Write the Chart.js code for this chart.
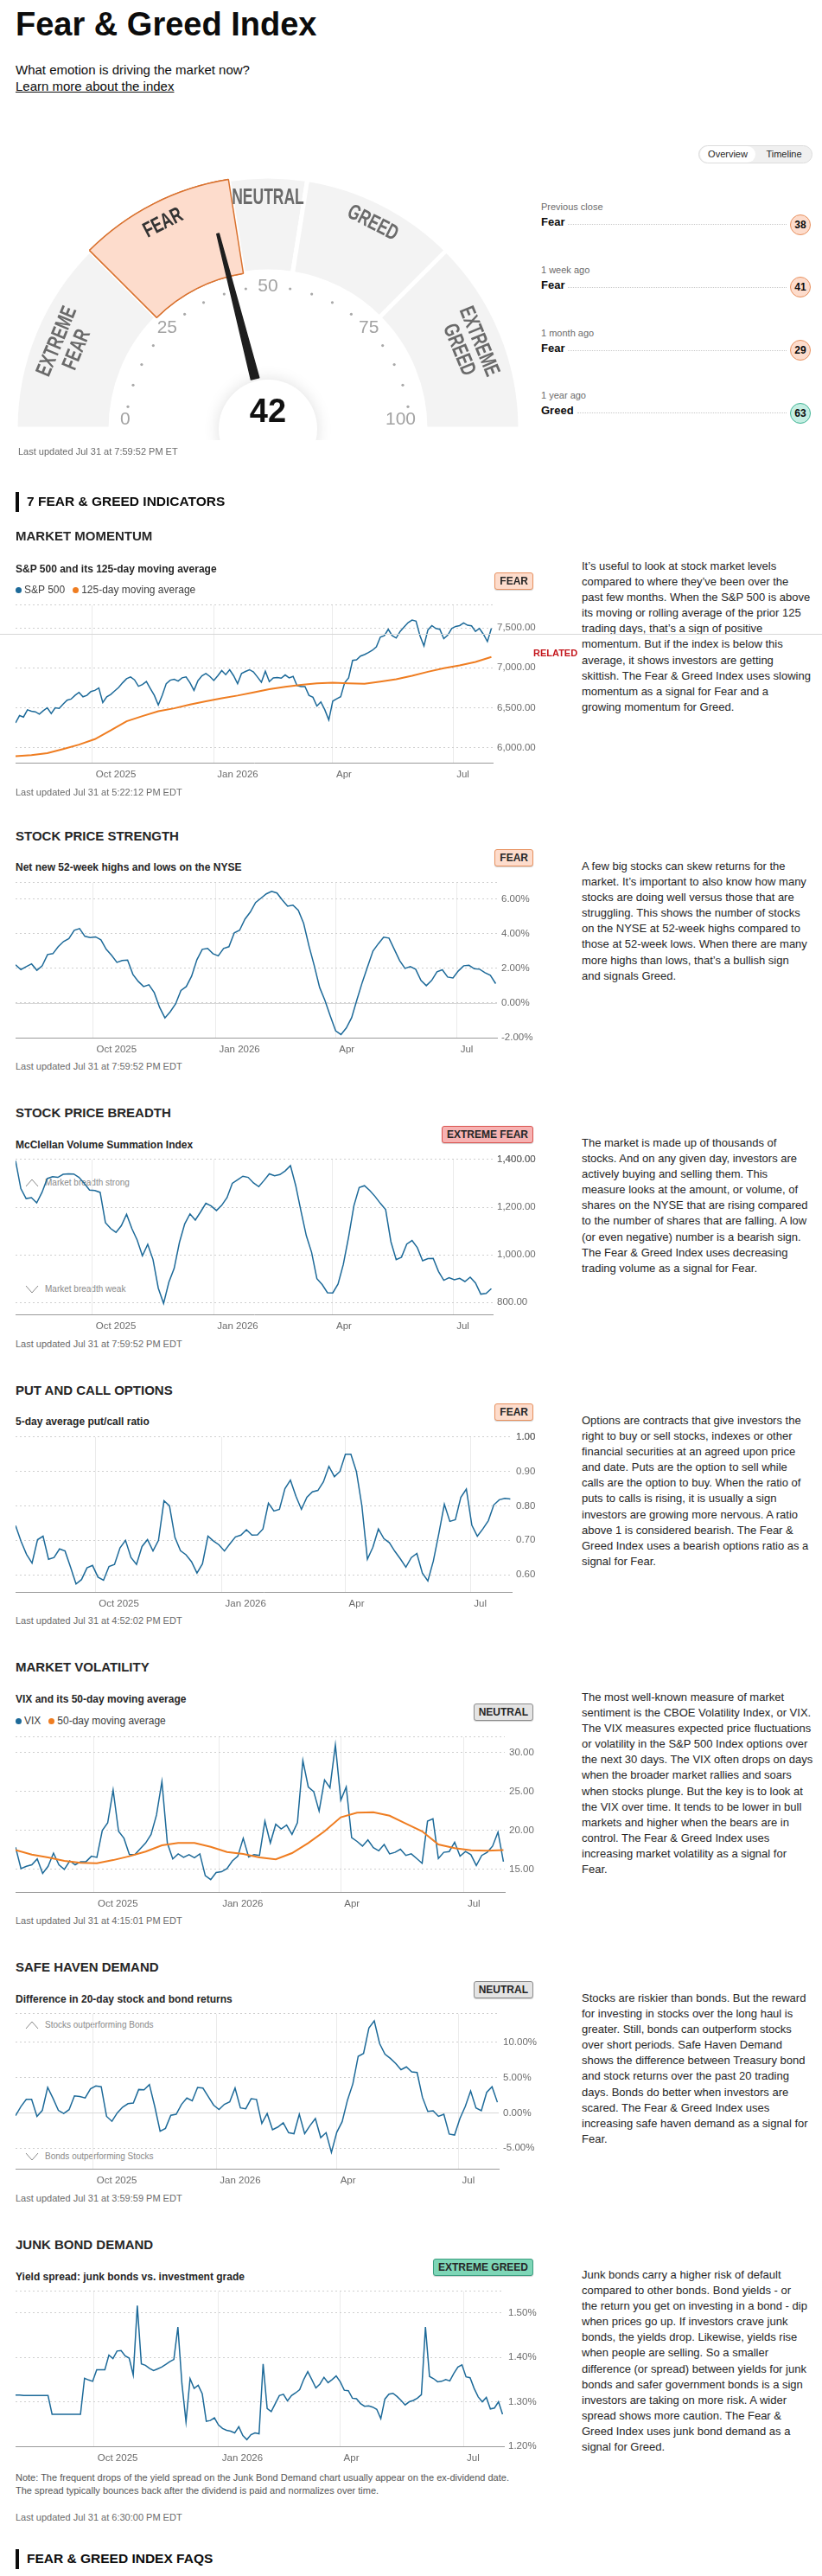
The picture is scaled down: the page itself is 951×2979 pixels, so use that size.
<!DOCTYPE html>
<html lang="en">
<head>
<meta charset="utf-8">
<title>Fear &amp; Greed Index</title>
<script src="https://cdn.jsdelivr.net/npm/chart.js@4.4.1/dist/chart.umd.min.js"></script>
<style>
  html, body { margin: 0; padding: 0; background: #fff; }
  body { position: relative; width: 951px; height: 2979px; overflow: hidden;
         font-family: "Liberation Sans", Arial, Helvetica, sans-serif; color: #0c0c0c; }
  .abs { position: absolute; white-space: nowrap; }
  .title { font-size: 38px; font-weight: bold; line-height: 44px; }
  .intro { font-size: 15px; line-height: 20px; }
  .intro a { color: #0c0c0c; text-decoration: underline; }
  .updated { font-size: 11px; line-height: 14px; color: #6b6b6b; }
  .kicker { font-size: 15.5px; font-weight: bold; line-height: 20px; }
  .kicker-bar { position: absolute; left: 18px; width: 4px; height: 23px; background: #0c0c0c; }
  .section-title { font-size: 15px; font-weight: bold; line-height: 20px; color: #262626; }
  .subtitle { font-size: 12px; font-weight: bold; line-height: 16px; color: #262626; }
  .legend { font-size: 12px; line-height: 16px; color: #404040; }
  .legend i { display: inline-block; width: 7px; height: 7px; border-radius: 50%; margin-right: 3px; }
  .legend span { margin-right: 9px; }
  .desc { font-size: 13px; line-height: 18.1px; color: #262626; }
  .note { font-size: 11px; line-height: 15px; color: #555; }
  .hint { font-size: 10px; line-height: 12px; color: #8a8a8a; }
  .badge { position: absolute; right: 334px; height: 18px; line-height: 18px; padding: 0 5px;
           font-size: 12px; font-weight: bold; border: 1px solid; border-radius: 3px; color: #262626;
           box-shadow: 0 1px 1px rgba(0,0,0,.18); white-space: nowrap; }
  .b-fear { background: #fddccc; border-color: #e8915f; }
  .b-neutral { background: #e4e4e4; border-color: #8c8c8c; }
  .b-xfear { background: #f7b2b2; border-color: #d9534f; }
  .b-xgreed { background: #7ed6b7; border-color: #3a9d7f; }
  .toggle { position: absolute; left: 808px; top: 168px; width: 130px; height: 19px; border: 1px solid #dcdcdc;
            border-radius: 11px; background: #f0f0f0; font-size: 11px; line-height: 19px; color: #262626; }
  .toggle span { position: absolute; top: 0; height: 19px; text-align: center; }
  .toggle .on { left: 1px; width: 64px; background: #fff; border-radius: 10px; }
  .hist-label { font-size: 11px; line-height: 14px; color: #6b6b6b; }
  .hist-row { position: absolute; left: 626px; width: 312px; height: 26px; display: flex; align-items: center; }
  .hist-row b { font-size: 13px; position: relative; top: -3px; }
  .hist-row .dots { flex: 1; border-top: 1px dotted #c9c9c9; margin: 0 4px 0 4px; }
  .hist-row .num { width: 22px; height: 22px; border-radius: 50%; border: 1px solid; font-size: 12px;
                   font-weight: bold; text-align: center; line-height: 22px; }
  .num.fear { background: #fddccc; border-color: #e8915f; }
  .num.greed { background: #c4eee2; border-color: #43b596; }
  canvas { position: absolute; left: 0; }
</style>
</head>
<body>

<div class="abs title" style="left:18px;top:6px">Fear &amp; Greed Index</div>
<div class="abs intro" style="left:18px;top:71px">What emotion is driving the market now?</div>
<div class="abs intro" style="left:18px;top:90px"><a>Learn more about the index</a></div>
<div class="toggle"><span class="on">Overview</span><span style="left:66px;width:64px">Timeline</span></div>

<canvas id="gauge" width="620" height="620" style="top:186px"></canvas>
<div class="abs updated" style="left:21px;top:515px">Last updated Jul 31 at 7:59:52 PM ET</div>

<div class="kicker-bar" style="top:569px"></div>
<div class="abs kicker" style="left:31px;top:570px">7 FEAR &amp; GREED INDICATORS</div>

<div class="kicker-bar" style="top:2948px"></div>
<div class="abs kicker" style="left:31px;top:2949px">FEAR &amp; GREED INDEX FAQS</div>

<script>
const FONT = '"Liberation Sans", Arial, Helvetica, sans-serif';
const BLUE = "#1d6a99";
const ORANGE = "#ef7d21";

// x axis is counted in days from Aug 4, 2025
const X_MAX_DAY = 361;
const monthTickDays = [58, 150, 240, 331];
const monthTickLabels = ["Oct 2025", "Jan 2026", "Apr", "Jul"];

// gauge
const gaugeValue = 42;
const gaugeBands = [25, 20, 10, 20, 25];
const gaugeBandNames = [["EXTREME", "FEAR"], ["FEAR"], ["NEUTRAL"], ["GREED"], ["EXTREME", "GREED"]];
const gaugeScaleLabels = [0, 25, 50, 75, 100];

const historyLabels = ["Previous close", "1 week ago", "1 month ago", "1 year ago"];
const historyRatings = ["Fear", "Fear", "Fear", "Greed"];
const historyValues = [38, 41, 29, 63];

// S&P 500, every 3 days
const sp500Values = [
  6310, 6401, 6383, 6473, 6455, 6448, 6419, 6462, 6499, 6426,
  6499, 6492, 6546, 6594, 6608, 6655, 6692, 6637, 6655, 6703,
  6717, 6747, 6565, 6637, 6666, 6710, 6754, 6812, 6863, 6885,
  6849, 6769, 6790, 6827, 6740, 6655, 6535, 6655, 6801, 6845,
  6856, 6834, 6874, 6885, 6812, 6717, 6838, 6900, 6929, 6892,
  6841, 6900, 6965, 6914, 6976, 6900, 6801, 6929, 6954, 6976,
  6947, 6885, 6819, 6958, 6827, 6874, 6878, 6870, 6910, 6874,
  6892, 6776, 6765, 6765, 6655, 6630, 6521, 6572, 6473, 6346,
  6583, 6612, 6637, 6812, 6874, 7092, 7100, 7147, 7165, 7191,
  7220, 7263, 7384, 7402, 7482, 7402, 7373, 7456, 7511, 7566,
  7598, 7584, 7402, 7274, 7475, 7529, 7493, 7482, 7365, 7409,
  7493, 7518, 7529, 7562, 7533, 7525, 7456, 7493, 7420, 7329,
  7493
];
// 125-day moving average, every 12 days
const sp500MaValues = [
  5891, 5906, 5931, 5982, 6037, 6106, 6215, 6330, 6395, 6455,
  6492, 6540, 6580, 6619, 6652, 6692, 6732, 6761, 6787, 6805,
  6812, 6805, 6801, 6827, 6856, 6900, 6950, 6994, 7030, 7074,
  7136
];
// net new 52-week highs and lows, every 4 days
const strengthValues = [
  2.20, 1.93, 2.10, 2.26, 1.89, 2.15, 2.80, 2.85, 3.25, 3.55,
  3.72, 4.20, 4.30, 3.85, 3.78, 3.82, 3.65, 3.10, 2.75, 2.35,
  2.45, 2.48, 1.65, 1.25, 0.95, 1.05, 0.60, -0.25, -0.86, -0.50,
  -0.05, 0.72, 0.95, 1.55, 2.50, 3.10, 3.15, 2.85, 2.72, 3.15,
  3.25, 4.05, 4.20, 4.84, 5.25, 5.80, 6.05, 6.30, 6.45, 6.35,
  5.95, 5.59, 5.65, 5.35, 4.60, 3.30, 2.15, 0.90, 0.15, -0.75,
  -1.60, -1.82, -1.44, -0.85, 0.20, 1.20, 2.10, 3.00, 3.42, 3.80,
  3.75, 3.10, 2.45, 2.00, 2.10, 1.95, 1.30, 1.00, 1.30, 1.80,
  1.92, 1.50, 1.45, 1.85, 2.15, 2.18, 1.98, 1.95, 1.75, 1.60,
  1.12
];
// McClellan volume summation index, every 4 days
const breadthValues = [
  1395, 1278, 1236, 1240, 1218, 1262, 1320, 1328, 1325, 1338,
  1340, 1339, 1325, 1300, 1272, 1270, 1262, 1135, 1110, 1094,
  1122, 1170, 1110, 1062, 996, 1044, 980, 860, 796, 885,
  943, 1052, 1130, 1172, 1146, 1180, 1216, 1205, 1186, 1208,
  1240, 1300, 1315, 1330, 1325, 1302, 1286, 1312, 1340, 1332,
  1337, 1352, 1374, 1290, 1182, 1080, 1010, 900, 875, 841,
  840, 877, 960, 1075, 1206, 1282, 1290, 1270, 1245, 1216,
  1190, 1055, 980, 990, 1045, 1060, 1030, 975, 984, 985,
  930, 893, 904, 895, 901, 888, 906, 882, 835, 838,
  858
];
// 5-day average put/call ratio, every 4 days
const putCallValues = [
  0.743, 0.697, 0.659, 0.634, 0.702, 0.712, 0.645, 0.650, 0.675, 0.669,
  0.622, 0.573, 0.586, 0.620, 0.627, 0.593, 0.584, 0.624, 0.630, 0.678,
  0.700, 0.650, 0.630, 0.682, 0.702, 0.669, 0.700, 0.815, 0.800, 0.708,
  0.670, 0.658, 0.638, 0.605, 0.632, 0.712, 0.698, 0.687, 0.669, 0.690,
  0.710, 0.715, 0.731, 0.715, 0.716, 0.733, 0.808, 0.785, 0.790, 0.850,
  0.875, 0.828, 0.790, 0.825, 0.841, 0.845, 0.870, 0.915, 0.885, 0.900,
  0.950, 0.950, 0.900, 0.800, 0.645, 0.680, 0.733, 0.705, 0.693, 0.668,
  0.646, 0.622, 0.650, 0.662, 0.605, 0.582, 0.640, 0.720, 0.805, 0.755,
  0.760, 0.825, 0.849, 0.744, 0.712, 0.733, 0.757, 0.803, 0.818, 0.822,
  0.820
];
// VIX, every 4 days
const vixValues = [
  17.85, 15.1, 15.4, 15.6, 16.35, 14.5, 15.4, 17.1, 15.6, 15.0,
  16.1, 15.6, 16.0, 16.0, 16.7, 16.55, 20.0, 21.0, 25.2, 19.9,
  19.0, 16.9, 16.9, 17.65, 18.4, 19.5, 22.0, 26.3, 18.4, 16.35,
  17.0, 16.55, 16.9, 16.5, 17.0, 14.2, 13.7, 14.6, 14.7, 15.1,
  16.1, 16.7, 19.0, 16.6, 16.9, 16.8, 21.2, 18.4, 20.8, 20.2,
  20.7, 19.5, 21.0, 29.0, 25.6, 25.0, 22.5, 26.5, 25.5, 31.0,
  23.9, 25.6, 19.1, 18.6, 18.0, 18.8, 17.8, 17.4, 18.2, 17.0,
  17.2, 17.6, 16.8, 17.0, 16.4, 15.8, 21.2, 21.5, 16.4, 17.2,
  17.3, 18.5, 16.7, 17.3, 16.9, 15.5, 16.8, 17.2, 18.0, 19.8,
  16.0
];
// VIX 50-day moving average, every 12 days
const vixMaValues = [
  17.5, 16.9, 16.55, 16.1, 15.85, 15.8, 16.2, 16.7, 17.3, 18.1,
  18.4, 18.4, 17.9, 17.25, 17.0, 16.55, 16.3, 17.1, 18.4, 19.9,
  21.7, 22.3, 22.35, 21.9, 20.9, 19.9, 18.2, 17.75, 17.45, 17.4,
  17.5
];
// 20-day stock minus bond returns, every 4 days
const safeHavenValues = [
  -0.40, 0.89, 1.90, 1.90, -0.50, 0.35, 3.60, 2.05, 0.35, -0.10,
  0.45, 2.40, 2.30, 2.10, 3.40, 3.80, 3.70, -0.50, -1.20, 0.00,
  0.80, 1.30, 1.40, 3.30, 3.25, 4.00, 0.90, -2.60, -2.20, -0.35,
  -0.20, 1.20, 2.10, 1.70, 3.60, 3.50, 2.30, 1.09, 0.48, 1.20,
  1.55, 3.50, 0.70, 0.58, 2.00, 1.90, -1.50, -0.10, -2.40, -2.00,
  -1.40, -2.80, -2.95, -0.20, -2.94, -1.80, -0.80, -3.50, -2.80, -5.60,
  -2.74, -1.25, 1.80, 4.10, 8.00, 8.40, 12.00, 13.00, 9.80, 8.30,
  7.70, 7.00, 6.10, 6.50, 5.80, 5.70, 2.20, 0.20, 0.30, -0.50,
  -0.20, -3.00, -3.14, -0.80, 0.90, 3.10, 0.70, 0.30, 2.90, 3.70,
  1.50
];
// junk bond yield spread, every 3 days
const junkSpreadValues = [
  1.315, 1.315, 1.314, 1.314, 1.314, 1.314, 1.314, 1.314, 1.314, 1.272,
  1.272, 1.272, 1.272, 1.272, 1.272, 1.272, 1.272, 1.353, 1.349, 1.346,
  1.372, 1.372, 1.372, 1.405, 1.397, 1.414, 1.415, 1.403, 1.398, 1.360,
  1.516, 1.385, 1.382, 1.375, 1.370, 1.374, 1.378, 1.384, 1.390, 1.395,
  1.468, 1.340, 1.255, 1.352, 1.330, 1.337, 1.318, 1.256, 1.258, 1.264,
  1.248, 1.240, 1.236, 1.234, 1.230, 1.244, 1.224, 1.215, 1.226, 1.230,
  1.228, 1.385, 1.285, 1.278, 1.296, 1.314, 1.317, 1.302, 1.314, 1.320,
  1.327, 1.350, 1.368, 1.350, 1.331, 1.340, 1.355, 1.343, 1.350, 1.358,
  1.345, 1.326, 1.325, 1.308, 1.307, 1.296, 1.290, 1.291, 1.288, 1.283,
  1.262, 1.306, 1.317, 1.319, 1.312, 1.303, 1.293, 1.300, 1.303, 1.308,
  1.316, 1.468, 1.357, 1.352, 1.345, 1.346, 1.350, 1.347, 1.364, 1.378,
  1.383, 1.356, 1.354, 1.330, 1.311, 1.300, 1.310, 1.284, 1.286, 1.300,
  1.272
];

const money = (v) => v.toLocaleString("en-US", { minimumFractionDigits: 2, maximumFractionDigits: 2 });
const pct = (v) => v.toFixed(2) + "%";
const plain = (v) => v.toFixed(2);

const sections = [
  {
    title: "MARKET MOMENTUM", titleY: 620,
    subtitle: "S&P 500 and its 125-day moving average", subtitleY: 658,
    legend: [["S&P 500", BLUE], ["125-day moving average", ORANGE]], legendY: 682,
    badge: "FEAR", badgeClass: "b-fear", badgeTop: 662,
    plotTop: 698, plotBottom: 882, plotRight: 570,
    yMin: 5811, yMax: 7784, yTicks: [6000, 6500, 7000, 7500], format: money,
    series: [
      { values: sp500MaValues, step: 12, color: ORANGE, width: 2 },
      { values: sp500Values, step: 3, color: BLUE, width: 1.5 },
    ],
    updated: "Last updated Jul 31 at 5:22:12 PM EDT", updatedY: 916,
    descY: 655,
    desc: [
      "It’s useful to look at stock market levels",
      "compared to where they’ve been over the",
      "past few months. When the S&P 500 is above",
      "its moving or rolling average of the prior 125",
      "trading days, that’s a sign of positive",
      "momentum. But if the index is below this",
      "average, it shows investors are getting",
      "skittish. The Fear & Greed Index uses slowing",
      "momentum as a signal for Fear and a",
      "growing momentum for Greed.",
    ],
  },
  {
    title: "STOCK PRICE STRENGTH", titleY: 967,
    subtitle: "Net new 52-week highs and lows on the NYSE", subtitleY: 1003,
    badge: "FEAR", badgeClass: "b-fear", badgeTop: 982,
    plotTop: 1019, plotBottom: 1200, plotRight: 575,
    yMin: -2, yMax: 6.94, yTicks: [-2, 0, 2, 4, 6], format: pct, zeroLine: true,
    series: [{ values: strengthValues, step: 4, color: BLUE, width: 1.5 }],
    updated: "Last updated Jul 31 at 7:59:52 PM EDT", updatedY: 1233,
    descY: 1002,
    desc: [
      "A few big stocks can skew returns for the",
      "market. It’s important to also know how many",
      "stocks are doing well versus those that are",
      "struggling. This shows the number of stocks",
      "on the NYSE at 52-week highs compared to",
      "those at 52-week lows. When there are many",
      "more highs than lows, that’s a bullish sign",
      "and signals Greed.",
    ],
  },
  {
    title: "STOCK PRICE BREADTH", titleY: 1287,
    subtitle: "McClellan Volume Summation Index", subtitleY: 1324,
    badge: "EXTREME FEAR", badgeClass: "b-xfear", badgeTop: 1302,
    plotTop: 1339, plotBottom: 1520, plotRight: 570,
    yMin: 750, yMax: 1400, yTicks: [800, 1000, 1200, 1400], format: money,
    hints: [["up", "Market breadth strong", 1368], ["down", "Market breadth weak", 1491]],
    series: [{ values: breadthValues, step: 4, color: BLUE, width: 1.5 }],
    updated: "Last updated Jul 31 at 7:59:52 PM EDT", updatedY: 1554,
    descY: 1322,
    desc: [
      "The market is made up of thousands of",
      "stocks. And on any given day, investors are",
      "actively buying and selling them. This",
      "measure looks at the amount, or volume, of",
      "shares on the NYSE that are rising compared",
      "to the number of shares that are falling. A low",
      "(or even negative) number is a bearish sign.",
      "The Fear & Greed Index uses decreasing",
      "trading volume as a signal for Fear.",
    ],
  },
  {
    title: "PUT AND CALL OPTIONS", titleY: 1608,
    subtitle: "5-day average put/call ratio", subtitleY: 1644,
    badge: "FEAR", badgeClass: "b-fear", badgeTop: 1623,
    plotTop: 1660, plotBottom: 1841, plotRight: 592,
    yMin: 0.55, yMax: 1.0, yTicks: [0.6, 0.7, 0.8, 0.9, 1.0], format: plain,
    series: [{ values: putCallValues, step: 4, color: BLUE, width: 1.5 }],
    updated: "Last updated Jul 31 at 4:52:02 PM EDT", updatedY: 1874,
    descY: 1643,
    desc: [
      "Options are contracts that give investors the",
      "right to buy or sell stocks, indexes or other",
      "financial securities at an agreed upon price",
      "and date. Puts are the option to sell while",
      "calls are the option to buy. When the ratio of",
      "puts to calls is rising, it is usually a sign",
      "investors are growing more nervous. A ratio",
      "above 1 is considered bearish. The Fear &",
      "Greed Index uses a bearish options ratio as a",
      "signal for Fear.",
    ],
  },
  {
    title: "MARKET VOLATILITY", titleY: 1928,
    subtitle: "VIX and its 50-day moving average", subtitleY: 1965,
    legend: [["VIX", BLUE], ["50-day moving average", ORANGE]], legendY: 1990,
    badge: "NEUTRAL", badgeClass: "b-neutral", badgeTop: 1970,
    plotTop: 2007, plotBottom: 2188, plotRight: 584,
    yMin: 12.1, yMax: 32, yTicks: [15, 20, 25, 30], format: plain,
    series: [
      { values: vixMaValues, step: 12, color: ORANGE, width: 2 },
      { values: vixValues, step: 4, color: BLUE, width: 1.5 },
    ],
    updated: "Last updated Jul 31 at 4:15:01 PM EDT", updatedY: 2221,
    descY: 1963,
    desc: [
      "The most well-known measure of market",
      "sentiment is the CBOE Volatility Index, or VIX.",
      "The VIX measures expected price fluctuations",
      "or volatility in the S&P 500 Index options over",
      "the next 30 days. The VIX often drops on days",
      "when the broader market rallies and soars",
      "when stocks plunge. But the key is to look at",
      "the VIX over time. It tends to be lower in bull",
      "markets and higher when the bears are in",
      "control. The Fear & Greed Index uses",
      "increasing market volatility as a signal for",
      "Fear.",
    ],
  },
  {
    title: "SAFE HAVEN DEMAND", titleY: 2275,
    subtitle: "Difference in 20-day stock and bond returns", subtitleY: 2312,
    badge: "NEUTRAL", badgeClass: "b-neutral", badgeTop: 2291,
    plotTop: 2327, plotBottom: 2508, plotRight: 577,
    yMin: -7.9, yMax: 14, yTicks: [-5, 0, 5, 10], format: pct, zeroLine: true,
    hints: [["up", "Stocks outperforming Bonds", 2342], ["down", "Bonds outperforming Stocks", 2494]],
    series: [{ values: safeHavenValues, step: 4, color: BLUE, width: 1.5 }],
    updated: "Last updated Jul 31 at 3:59:59 PM EDT", updatedY: 2542,
    descY: 2311,
    desc: [
      "Stocks are riskier than bonds. But the reward",
      "for investing in stocks over the long haul is",
      "greater. Still, bonds can outperform stocks",
      "over short periods. Safe Haven Demand",
      "shows the difference between Treasury bond",
      "and stock returns over the past 20 trading",
      "days. Bonds do better when investors are",
      "scared. The Fear & Greed Index uses",
      "increasing safe haven demand as a signal for",
      "Fear.",
    ],
  },
  {
    title: "JUNK BOND DEMAND", titleY: 2596,
    subtitle: "Yield spread: junk bonds vs. investment grade", subtitleY: 2633,
    badge: "EXTREME GREED", badgeClass: "b-xgreed", badgeTop: 2612,
    plotTop: 2648, plotBottom: 2829, plotRight: 583,
    yMin: 1.2, yMax: 1.548, yTicks: [1.2, 1.3, 1.4, 1.5], format: pct,
    series: [{ values: junkSpreadValues, step: 3, color: BLUE, width: 1.5 }],
    note: [
      "Note: The frequent drops of the yield spread on the Junk Bond Demand chart usually appear on the ex-dividend date.",
      "The spread typically bounces back after the dividend is paid and normalizes over time.",
    ], noteY: 2865,
    updated: "Last updated Jul 31 at 6:30:00 PM EDT", updatedY: 2911,
    descY: 2631,
    desc: [
      "Junk bonds carry a higher risk of default",
      "compared to other bonds. Bond yields - or",
      "the return you get on investing in a bond - dip",
      "when prices go up. If investors crave junk",
      "bonds, the yields drop. Likewise, yields rise",
      "when people are selling. So a smaller",
      "difference (or spread) between yields for junk",
      "bonds and safer government bonds is a sign",
      "investors are taking on more risk. A wider",
      "spread shows more caution. The Fear &",
      "Greed Index uses junk bond demand as a",
      "signal for Greed.",
    ],
  },
];

function addText(text, x, centerY, cls, lineHeight) {
  const el = document.createElement("div");
  el.className = "abs " + cls;
  el.textContent = text;
  el.style.left = x + "px";
  el.style.top = centerY - lineHeight / 2 + "px";
  document.body.appendChild(el);
  return el;
}

function addHistory() {
  historyLabels.forEach((label, i) => {
    const y = 239 + i * 72.8;
    addText(label, 626, y, "hist-label", 14);
    const row = document.createElement("div");
    row.className = "hist-row";
    row.style.top = y + 20.5 - 13 + "px";
    const kind = historyRatings[i].toLowerCase();
    row.innerHTML = `<b>${historyRatings[i]}</b><span class="dots"></span><span class="num ${kind}">${historyValues[i]}</span>`;
    document.body.appendChild(row);
  });
}

function activeBandIndex() {
  let start = 0;
  for (let i = 0; i < gaugeBands.length; i++) {
    if (gaugeValue < start + gaugeBands[i]) return i;
    start += gaugeBands[i];
  }
  return gaugeBands.length - 1;
}

const gaugeDecor = {
  id: "gaugeDecor",
  afterDatasetsDraw(chart) {
    const ctx = chart.ctx;
    const meta = chart.getDatasetMeta(0);
    const cx = meta.data[0].x;
    const cy = meta.data[0].y;
    const active = activeBandIndex();
    meta.data[active].draw(ctx);

    // band names along the arc
    let start = 0;
    gaugeBands.forEach((band, i) => {
      const theta = Math.PI * (1 - (start + band / 2) / 100);
      start += band;
      const lines = gaugeBandNames[i];
      const radii = lines.length === 2 ? [264, 239] : [267];
      lines.forEach((txt, j) => {
        ctx.save();
        ctx.translate(cx + radii[j] * Math.cos(theta), cy - radii[j] * Math.sin(theta));
        ctx.rotate(Math.PI / 2 - theta);
        ctx.scale(0.7, 1);
        ctx.font = "bold 25px " + FONT;
        ctx.fillStyle = i === active ? "#333" : "#6a6a6a";
        ctx.textAlign = "center";
        ctx.textBaseline = "middle";
        ctx.fillText(txt, 0, 0);
        ctx.restore();
      });
    });

    // scale dots and numbers
    for (let v = 0; v <= 100; v += 5) {
      const theta = Math.PI * (1 - v / 100);
      if (gaugeScaleLabels.includes(v)) {
        const r = v === 0 || v === 100 ? 171 : 165;
        let x = cx + r * Math.cos(theta);
        let y = Math.min(cy - r * Math.sin(theta), cy - 11);
        ctx.save();
        ctx.font = "21px " + FONT;
        ctx.fillStyle = "#a3a3a3";
        ctx.textAlign = v === 0 ? "left" : v === 100 ? "right" : "center";
        ctx.textBaseline = "middle";
        ctx.fillText(String(v), x, y);
        ctx.restore();
      } else {
        ctx.beginPath();
        ctx.fillStyle = "#a9a9a9";
        ctx.arc(cx + 164 * Math.cos(theta), cy - 164 * Math.sin(theta), 1.6, 0, Math.PI * 2);
        ctx.fill();
      }
    }

    // center disc
    ctx.save();
    ctx.beginPath();
    ctx.rect(cx - 120, cy - 120, 240, 133);
    ctx.clip();
    ctx.shadowColor = "rgba(0,0,0,0.13)";
    ctx.shadowBlur = 18;
    ctx.fillStyle = "#fff";
    ctx.beginPath();
    ctx.arc(cx, cy, 57, 0, Math.PI * 2);
    ctx.fill();
    ctx.restore();

    // needle
    const theta = Math.PI * (1 - gaugeValue / 100);
    const ux = Math.cos(theta);
    const uy = -Math.sin(theta);
    const px = -uy;
    const py = ux;
    const r0 = 60;
    const r1 = 233;
    ctx.save();
    ctx.fillStyle = "#1e1e1e";
    ctx.strokeStyle = "#1e1e1e";
    ctx.lineJoin = "round";
    ctx.lineWidth = 1.5;
    ctx.beginPath();
    ctx.moveTo(cx + ux * r0 + px * 4.8, cy + uy * r0 + py * 4.8);
    ctx.lineTo(cx + ux * r1 + px * 1.3, cy + uy * r1 + py * 1.3);
    ctx.lineTo(cx + ux * r1 - px * 1.3, cy + uy * r1 - py * 1.3);
    ctx.lineTo(cx + ux * r0 - px * 4.8, cy + uy * r0 - py * 4.8);
    ctx.closePath();
    ctx.fill();
    ctx.stroke();
    ctx.restore();

    ctx.save();
    ctx.font = "bold 38px " + FONT;
    ctx.fillStyle = "#111";
    ctx.textAlign = "center";
    ctx.textBaseline = "middle";
    ctx.fillText(String(gaugeValue), cx, cy - 18);
    ctx.restore();
  },
};

function createGauge() {
  const active = activeBandIndex();
  const fills = gaugeBands.map((b, i) => (i === active ? "#fddccc" : "#f3f3f3"));
  const borders = gaugeBands.map((b, i) => (i === active ? "#d9722f" : "#ffffff"));
  const widths = gaugeBands.map((b, i) => (i === active ? 1.5 : 5));
  return new Chart(document.getElementById("gauge").getContext("2d"), {
    type: "doughnut",
    data: {
      labels: gaugeBandNames.map((n) => n.join(" ")).concat([""]),
      datasets: [{
        data: gaugeBands.concat([100]),
        backgroundColor: fills.concat(["rgba(0,0,0,0)"]),
        borderColor: borders.concat(["rgba(0,0,0,0)"]),
        borderWidth: widths.concat([0]),
      }],
    },
    options: {
      responsive: false,
      animation: false,
      events: [],
      rotation: 270,
      circumference: 360,
      radius: 292,
      cutout: (182 / 292) * 100 + "%",
      plugins: { legend: { display: false }, tooltip: { enabled: false } },
    },
    plugins: [gaugeDecor],
  });
}

const zeroLine = {
  id: "zeroLine",
  beforeDatasetsDraw(chart) {
    const { ctx, chartArea, scales } = chart;
    const y = Math.round(scales.y.getPixelForValue(0)) + 0.5;
    ctx.save();
    ctx.strokeStyle = "#d8d8d8";
    ctx.lineWidth = 1;
    ctx.beginPath();
    ctx.moveTo(chartArea.left, y);
    ctx.lineTo(chartArea.right, y);
    ctx.stroke();
    ctx.restore();
  },
};

function createLineChart(section) {
  const canvasWidth = 640;
  const padTop = 10;
  const axisHeight = 24;
  const height = section.plotBottom - section.plotTop + padTop + axisHeight;
  const canvas = document.createElement("canvas");
  canvas.width = canvasWidth;
  canvas.height = height;
  canvas.style.top = section.plotTop - padTop + "px";
  document.body.appendChild(canvas);

  const tickFont = { family: FONT, size: 11.5 };
  return new Chart(canvas.getContext("2d"), {
    type: "line",
    data: {
      datasets: section.series.map((s) => ({
        data: s.values.map((v, i) => ({ x: i * s.step, y: v })),
        borderColor: s.color,
        borderWidth: s.width,
        pointRadius: 0,
        tension: 0,
        fill: false,
      })),
    },
    options: {
      responsive: false,
      animation: false,
      events: [],
      layout: { padding: { left: 18, top: padTop, right: 0, bottom: 0 } },
      plugins: { legend: { display: false }, tooltip: { enabled: false } },
      scales: {
        x: {
          type: "linear",
          min: 0,
          max: X_MAX_DAY,
          afterBuildTicks: (scale) => {
            scale.ticks = monthTickDays.map((d) => ({ value: d }));
          },
          afterFit: (scale) => {
            scale.height = axisHeight;
          },
          grid: { color: "#ebebeb", drawTicks: false },
          border: { color: "#9a9a9a" },
          ticks: {
            align: "start",
            labelOffset: 4,
            padding: 7,
            maxRotation: 0,
            autoSkip: false,
            color: "#6b6b6b",
            font: tickFont,
            callback: (value, index) => monthTickLabels[index],
          },
        },
        y: {
          position: "right",
          min: section.yMin,
          max: section.yMax,
          afterBuildTicks: (scale) => {
            scale.ticks = section.yTicks.concat([section.yMax]).map((v) => ({ value: v }));
          },
          afterFit: (scale) => {
            scale.width = canvasWidth - section.plotRight;
          },
          grid: { color: "#cfcfcf", drawTicks: false },
          border: { display: false, dash: [2, 3] },
          ticks: {
            padding: 5,
            color: "#6b6b6b",
            font: tickFont,
            callback: (value) => (value === section.yMax && !section.yTicks.includes(value) ? "" : section.format(value)),
          },
        },
      },
    },
    plugins: section.zeroLine ? [zeroLine] : [],
  });
}

function chevron(dir, y) {
  const svg = document.createElementNS("http://www.w3.org/2000/svg", "svg");
  svg.setAttribute("width", "16");
  svg.setAttribute("height", "10");
  svg.style.cssText = `position:absolute;left:29px;top:${y - 5}px`;
  const pts = dir === "up" ? "1,9 8,1 15,9" : "1,1 8,9 15,1";
  svg.innerHTML = `<polyline points="${pts}" fill="none" stroke="#8a8a8a" stroke-width="1"/>`;
  document.body.appendChild(svg);
}

function buildSection(section) {
  addText(section.title, 18, section.titleY, "section-title", 20);
  addText(section.subtitle, 18, section.subtitleY, "subtitle", 16);
  if (section.legend) {
    const el = addText("", 18, section.legendY, "legend", 16);
    el.innerHTML = section.legend
      .map(([name, color]) => `<span><i style="background:${color}"></i>${name}</span>`)
      .join("");
  }
  const badge = document.createElement("div");
  badge.className = "badge " + section.badgeClass;
  badge.style.top = section.badgeTop + "px";
  badge.textContent = section.badge;
  document.body.appendChild(badge);

  (section.hints || []).forEach(([dir, text, y]) => {
    chevron(dir, y);
    addText(text, 52, y, "hint", 12);
  });

  createLineChart(section);

  if (section.note) {
    section.note.forEach((line, i) => addText(line, 18, section.noteY + i * 15, "note", 15));
  }
  addText(section.updated, 18, section.updatedY, "updated", 14);

  const desc = addText("", 673, section.descY, "desc", 18.1);
  desc.innerHTML = section.desc
    .map((line) => line.replace(/&/g, "&amp;"))
    .join("<br>");
}

addHistory();
createGauge();
sections.forEach(buildSection);

// stray overlay from the captured page
const rule = document.createElement("div");
rule.style.cssText = "position:absolute;left:0;top:733px;width:951px;height:1px;background:#d6d6d6";
document.body.appendChild(rule);
const related = addText("RELATED", 617, 755, "", 14);
related.style.cssText += ";font-size:11px;font-weight:bold;color:#c4161c;line-height:14px";
</script>
</body>
</html>
